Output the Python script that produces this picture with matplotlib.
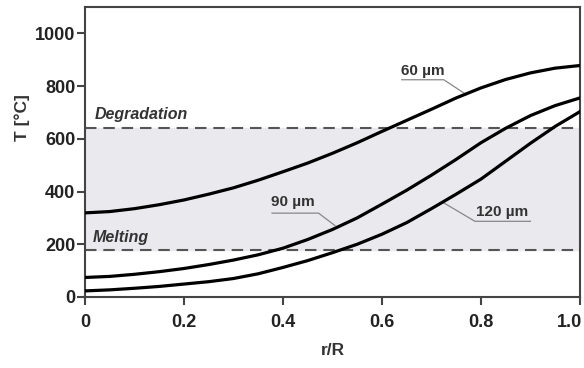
import numpy as np
import matplotlib
matplotlib.use('Agg')
import matplotlib.pyplot as plt
from matplotlib.transforms import ScaledTranslation

plt.rcParams['font.family'] = ['Liberation Sans', 'DejaVu Sans']
plt.rcParams['font.weight'] = 'bold'
plt.rcParams['axes.labelweight'] = 'bold'

# radial position r/R
r = [0.0, 0.05, 0.1, 0.15, 0.2, 0.25, 0.3, 0.35, 0.4, 0.45, 0.5,
     0.55, 0.6, 0.65, 0.7, 0.75, 0.8, 0.85, 0.9, 0.95, 1.0]

# temperature (degC) for three particle sizes
t60 = [319, 324, 335, 350, 368, 390, 414, 443, 475, 508, 545,
       585, 628, 670, 712, 755, 793, 825, 850, 868, 878]
t90 = [74, 78, 86, 96, 108, 123, 140, 160, 185, 218, 256,
       300, 352, 405, 462, 522, 585, 640, 688, 726, 755]
t120 = [23, 27, 33, 40, 49, 58, 70, 88, 112, 138, 168,
        200, 238, 282, 335, 390, 447, 515, 583, 647, 703]

t_melt = 178
t_degr = 640

fig = plt.figure(figsize=(5.84, 3.68), dpi=100)
ax = fig.add_axes([0.1455, 0.193, 0.8475, 0.788])

# shaded processing window
ax.axhspan(t_melt, t_degr, color='#e9e9ee', zorder=0)
ax.axhline(t_degr, color='#555555', lw=1.5, dashes=(5.5, 3.3), zorder=1)
ax.axhline(t_melt, color='#555555', lw=1.5, dashes=(5.5, 3.3), zorder=1)

for t in (t60, t90, t120):
    ax.plot(r, t, color='black', lw=2.3, zorder=3)

ax.text(0.02, 691, 'Degradation', style='italic', fontsize=11.5,
        color='#333333', va='center', ha='left')
ax.text(0.016, 226, 'Melting', style='italic', fontsize=11.5,
        color='#333333', va='center', ha='left')

# curve labels with leader lines
lead = dict(color='#888888', lw=0.9, zorder=2)
ax.text(0.683, 858, '60 µm', fontsize=11, color='#333333', ha='center', va='center')
ax.plot([0.64, 0.725, 0.771], [824, 824, 767], **lead)
ax.text(0.42, 361, '90 µm', fontsize=11, color='#333333', ha='center', va='center')
ax.plot([0.378, 0.472, 0.505], [318, 318, 271], **lead)
ax.text(0.843, 324, '120 µm', fontsize=11, color='#333333', ha='center', va='center')
ax.plot([0.9, 0.788, 0.724], [287, 287, 358], **lead)

ax.set_xlim(0, 1.0)
ax.set_ylim(0, 1100)
ax.set_xticks([0, 0.2, 0.4, 0.6, 0.8, 1.0])
ax.set_xticklabels(['0', '0.2', '0.4', '0.6', '0.8', '1.0'])
ax.set_yticks([0, 200, 400, 600, 800, 1000])

for s in ax.spines.values():
    s.set_color('#444444')
    s.set_linewidth(1.5)
ax.tick_params(axis='both', colors='#444444', width=1.5, length=6,
               labelsize=13, labelcolor='#222222')
ax.tick_params(axis='y', pad=1)
ax.tick_params(axis='x', pad=6)
last = ax.get_xticklabels()[-1]
last.set_transform(last.get_transform() + ScaledTranslation(-10 / 100, 0, fig.dpi_scale_trans))

ax.set_xlabel('r/R', fontsize=12.5, color='#333333', labelpad=9)
ax.set_ylabel('T [°C]', fontsize=12.5, color='#333333')
ax.yaxis.set_label_coords(-0.111, 0.62)

fig.savefig('out.png', dpi=100)
